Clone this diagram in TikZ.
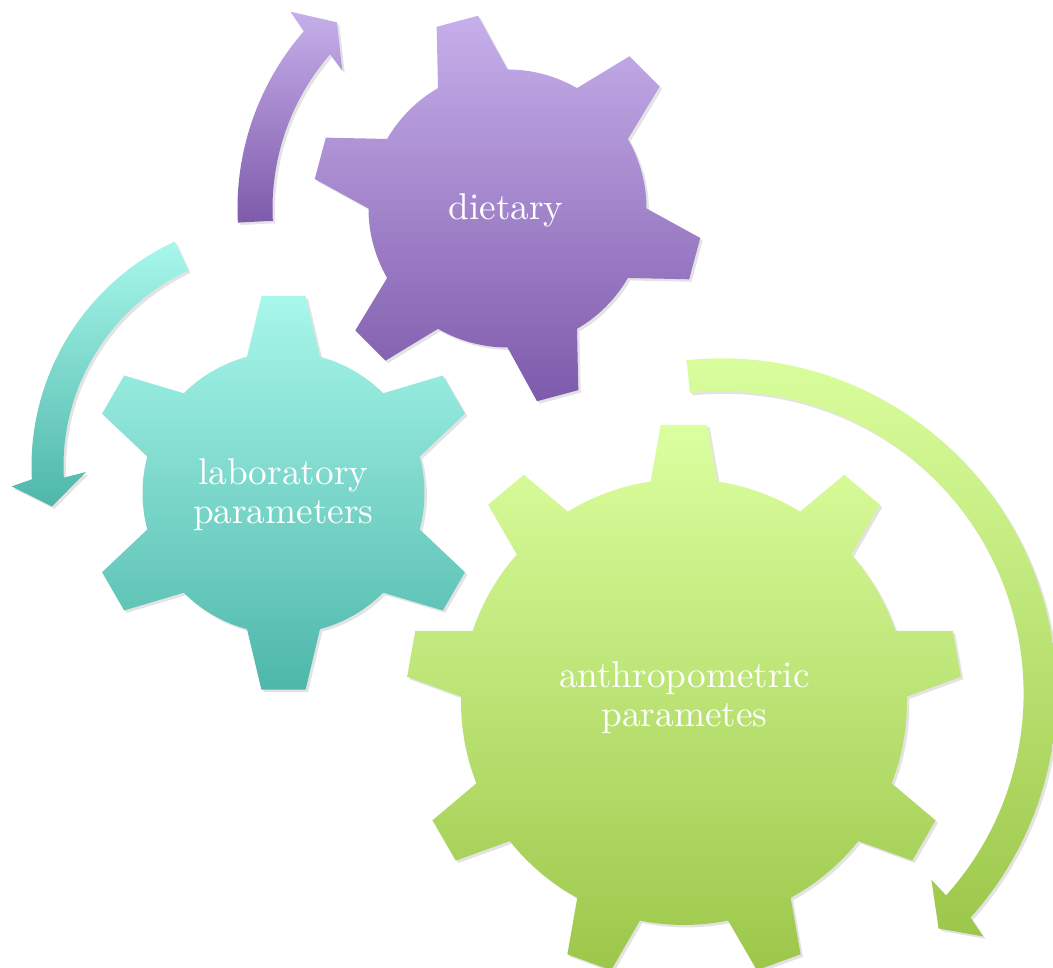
\documentclass[tikz,border=0pt]{standalone}
\usepackage{tikz}
\usetikzlibrary{shadows}

\definecolor{dietTop}{HTML}{C6AFEA}
\definecolor{dietBot}{HTML}{7E5AAB}
\definecolor{labTop}{HTML}{A8F7EB}
\definecolor{labBot}{HTML}{4EB7AA}
\definecolor{anthTop}{HTML}{DBFF9F}
\definecolor{anthBot}{HTML}{9CC74A}

\tikzset{
  cog/.style={top color=#1Top, bottom color=#1Bot, draw=none,
    drop shadow={opacity=.22, shadow xshift=.7pt, shadow yshift=-.7pt}},
  cogtext/.style={text=white, font=\fontsize{10.6}{10.9}\selectfont, align=center},
}

% center, teeth, tip radius, body radius, half angle at tip, half angle at base, first tooth, style
\newcommand{\gear}[8]{%
  \path[#8, shift={#1}] ({#7-#6}:#4)
    \foreach \k in {1,...,#2} {
      -- ({#7+(\k-1)*360/#2-#5}:#3) -- ({#7+(\k-1)*360/#2+#5}:#3)
      -- ({#7+(\k-1)*360/#2+#6}:#4)
      arc[start angle={#7+(\k-1)*360/#2+#6}, end angle={#7+\k*360/#2-#6}, radius=#4]
    } -- cycle;}

\begin{document}
\begin{tikzpicture}[x=0.01cm, y=0.01cm]
\useasboundingbox (0,0) rectangle (1053,968);

\gear{(507.5,759.5)}{6}{195}{139}{6.3}{15}{45}{cog=diet}
\gear{(283.5,475)}{6}{198}{141}{6.4}{15}{30}{cog=lab}
\gear{(684,266)}{9}{278}{223}{4.8}{8.6}{10}{cog=anth}

% turning arrows
\path[cog=diet, shift={(507.5,759.5)}]
  (183:270) arc[start angle=183, end angle=139, radius=270]
  -- (137.8:293) -- (132.5:252.5) -- (140.2:215) -- (139:235)
  arc[start angle=139, end angle=183, radius=235] -- cycle;
\path[cog=lab, shift={(279.5,501.7)}]
  (115:248) arc[start angle=115, end angle=183, radius=248]
  -- (184.3:268.6) -- (190:231) -- (181.7:193.5) -- (183:216)
  arc[start angle=183, end angle=115, radius=216] -- cycle;
\path[cog=anth, shift={(721.6,274.6)}]
  (96:335) arc[start angle=96, end angle=-42, radius=335]
  -- (-42.9:357) -- (-47.3:320) -- (-41.6:280.5) -- (-42:302)
  arc[start angle=-42, end angle=96, radius=302] -- cycle;

\node[cogtext, anchor=base] (diet) at (506,748) {dietary};
\node[cogtext] (lab) at (283.3,473.2) {laboratory\\parameters};
\node[cogtext] (anthro) at (684.5,270.2) {anthropometric\\parametes};
\end{tikzpicture}
\end{document}
